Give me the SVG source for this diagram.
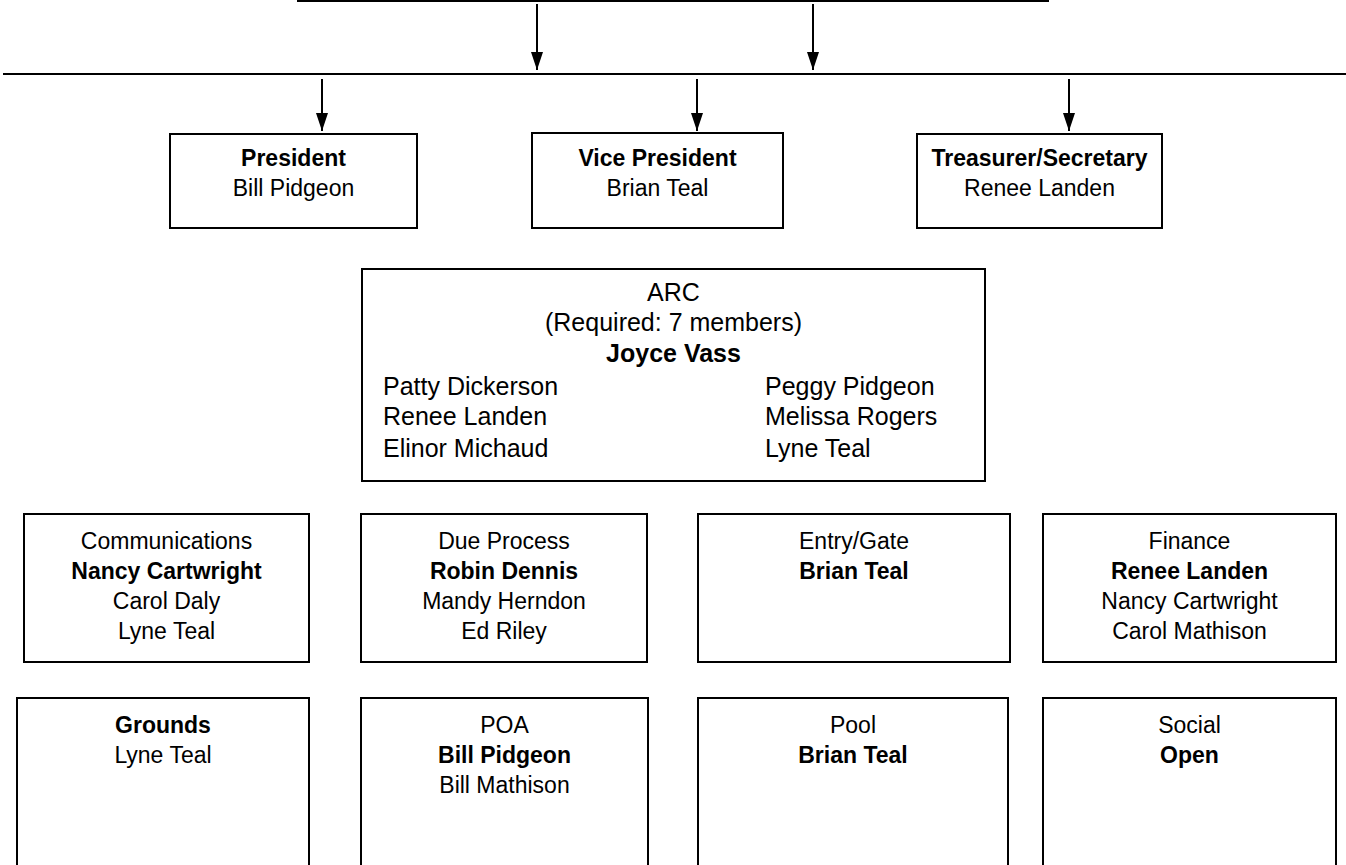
<svg xmlns="http://www.w3.org/2000/svg" width="1346" height="865" viewBox="0 0 1346 865">
<style>
text{font-family:"Liberation Sans",Arial,sans-serif;font-size:23px;fill:#000;text-anchor:middle}
.b{font-weight:bold}
.l{text-anchor:start}
.arc{font-size:25px}
rect{fill:#fff;stroke:#000;stroke-width:2}
.ln{stroke:#000;stroke-width:2;fill:none}
.ar{marker-end:url(#ah)}
</style>
<defs>
<marker id="ah" markerUnits="userSpaceOnUse" markerWidth="18" markerHeight="12" viewBox="0 0 18 12" refX="18" refY="6" orient="auto">
<path d="M0,0 L18,6 L0,12 Z" fill="#000"/>
</marker>
</defs>
<g id="connectors">
<line class="ln" x1="297" y1="1" x2="1049" y2="1"/>
<line class="ln" x1="3" y1="74" x2="1346" y2="74" stroke-width="2.5"/>
<line class="ln ar" x1="537" y1="4" x2="537" y2="70"/>
<line class="ln ar" x1="813" y1="4" x2="813" y2="70"/>
<line class="ln ar" x1="322" y1="79" x2="322" y2="131"/>
<line class="ln ar" x1="697" y1="79" x2="697" y2="131"/>
<line class="ln ar" x1="1069" y1="79" x2="1069" y2="131"/>
</g>
<g id="president">
<rect x="170" y="134" width="247" height="94"/>
<text x="293.5" y="166" class="b">President</text>
<text x="293.5" y="196">Bill Pidgeon</text>
</g>
<g id="vice-president">
<rect x="532" y="133" width="251" height="95"/>
<text x="657.5" y="166" class="b">Vice President</text>
<text x="657.5" y="196">Brian Teal</text>
</g>
<g id="treasurer">
<rect x="917" y="134" width="245" height="94"/>
<text x="1039.5" y="166" class="b">Treasurer/Secretary</text>
<text x="1039.5" y="196">Renee Landen</text>
</g>
<g id="arc" class="arc">
<rect x="362" y="269" width="623" height="212"/>
<text class="arc" x="673.5" y="301">ARC</text>
<text class="arc" x="673.5" y="331">(Required: 7 members)</text>
<text class="arc b" x="673.5" y="362">Joyce Vass</text>
<text class="arc l" x="383" y="395">Patty Dickerson</text>
<text class="arc l" x="383" y="425">Renee Landen</text>
<text class="arc l" x="383" y="457">Elinor Michaud</text>
<text class="arc l" x="765" y="395">Peggy Pidgeon</text>
<text class="arc l" x="765" y="425">Melissa Rogers</text>
<text class="arc l" x="765" y="457">Lyne Teal</text>
</g>
<g id="communications">
<rect x="24" y="514" width="285" height="148"/>
<text x="166.5" y="549">Communications</text>
<text x="166.5" y="579" class="b">Nancy Cartwright</text>
<text x="166.5" y="609">Carol Daly</text>
<text x="166.5" y="639">Lyne Teal</text>
</g>
<g id="due-process">
<rect x="361" y="514" width="286" height="148"/>
<text x="504" y="549">Due Process</text>
<text x="504" y="579" class="b">Robin Dennis</text>
<text x="504" y="609">Mandy Herndon</text>
<text x="504" y="639">Ed Riley</text>
</g>
<g id="entry-gate">
<rect x="698" y="514" width="312" height="148"/>
<text x="854" y="549">Entry/Gate</text>
<text x="854" y="579" class="b">Brian Teal</text>
</g>
<g id="finance">
<rect x="1043" y="514" width="293" height="148"/>
<text x="1189.5" y="549">Finance</text>
<text x="1189.5" y="579" class="b">Renee Landen</text>
<text x="1189.5" y="609">Nancy Cartwright</text>
<text x="1189.5" y="639">Carol Mathison</text>
</g>
<g id="grounds">
<rect x="17" y="698" width="292" height="200"/>
<text x="163" y="733" class="b">Grounds</text>
<text x="163" y="763">Lyne Teal</text>
</g>
<g id="poa">
<rect x="361" y="698" width="287" height="200"/>
<text x="504.5" y="733">POA</text>
<text x="504.5" y="763" class="b">Bill Pidgeon</text>
<text x="504.5" y="793">Bill Mathison</text>
</g>
<g id="pool">
<rect x="698" y="698" width="310" height="200"/>
<text x="853" y="733">Pool</text>
<text x="853" y="763" class="b">Brian Teal</text>
</g>
<g id="social">
<rect x="1043" y="698" width="293" height="200"/>
<text x="1189.5" y="733">Social</text>
<text x="1189.5" y="763" class="b">Open</text>
</g>
</svg>
